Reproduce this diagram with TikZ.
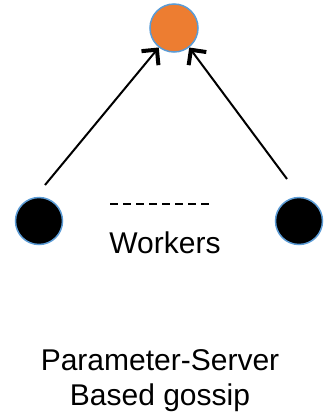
\documentclass[tikz,border=0pt]{standalone}
\usepackage{fontspec}
\setmainfont{Liberation Sans}
\usetikzlibrary{arrows.meta}
\definecolor{psorange}{HTML}{ED7D31}
\definecolor{psblue}{HTML}{5B9BD5}
\begin{document}
\begin{tikzpicture}[x=1pt,y=-1pt,
  server/.style={circle,fill=psorange,draw=psblue,line width=1.5pt,minimum size=48pt,inner sep=0pt},
  worker/.style={circle,fill=black,draw=psblue,line width=1.5pt,minimum size=47pt,inner sep=0pt},
  link/.style={line width=2pt,-{Straight Barb[length=11pt,width=22pt,line width=4pt]}},
  lbl/.style={font=\fontsize{30}{35}\selectfont,align=center,inner sep=0pt}]
\useasboundingbox (0,0) rectangle (325,418);
\node[server] (ps) at (174,28) {};
\node[worker] (w1) at (39,221) {};
\node[worker] (w2) at (299,221) {};
\coordinate (s1) at (45,185);
\coordinate (s2) at (287,179);
\draw[link] (s1) -- (ps.-128);
\draw[link] (s2) -- (ps.-52);
\coordinate (d1) at (110,204);
\coordinate (d2) at (213,204);
\draw[line width=1.3pt,dash pattern=on 8pt off 5pt] (d1) -- (d2);
\node[lbl,anchor=base] (wk) at (165,253) {Workers};
\node[lbl,anchor=base] (t) at (160,405) {Parameter-Server\\Based gossip};
\end{tikzpicture}
\end{document}
